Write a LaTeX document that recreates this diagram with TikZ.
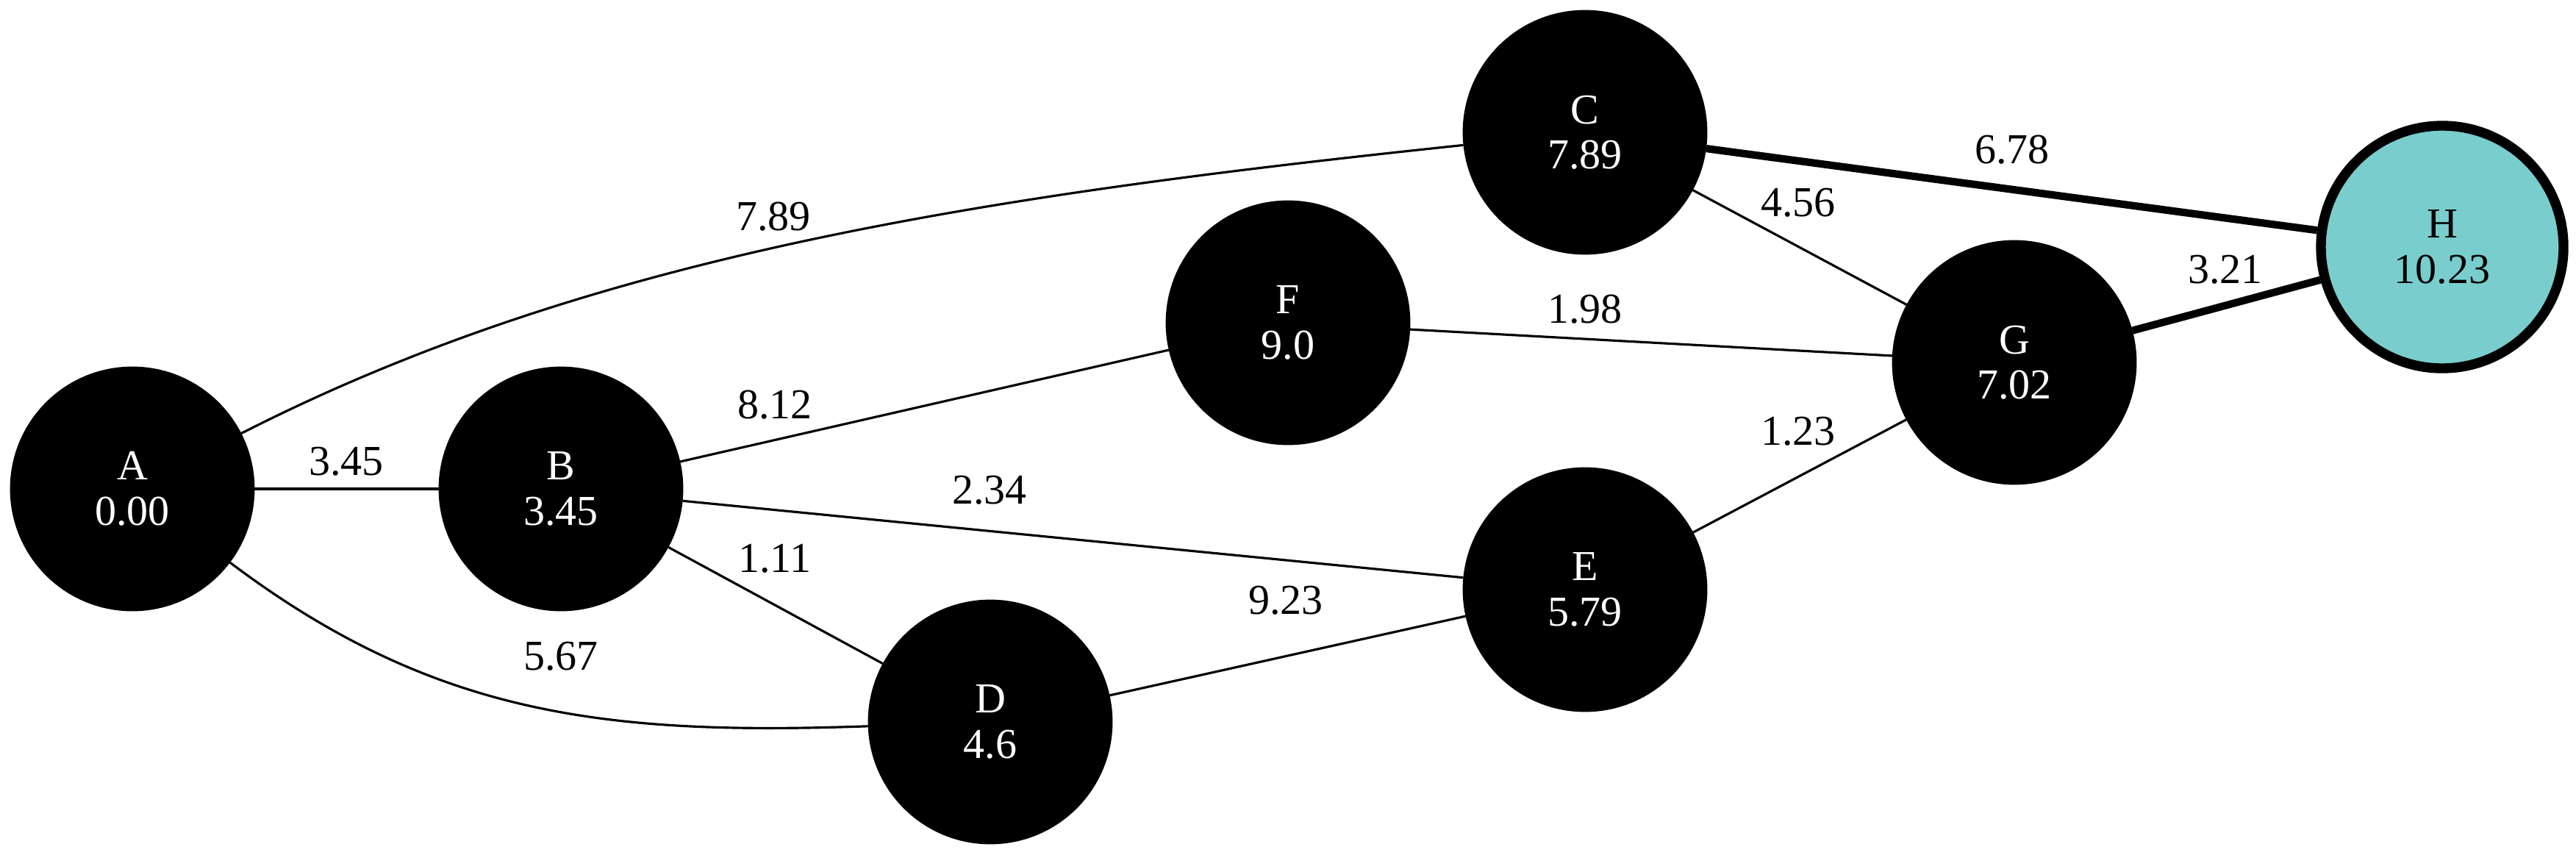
\documentclass[tikz,border=0pt]{standalone}
\usepackage{fontspec}
\setmainfont{Liberation Serif}
\usepackage{xcolor}
\usepackage{tikz}

\definecolor{goalcyan}{HTML}{79CDCD}

\begin{document}
\begin{tikzpicture}[
    vertex/.style = {circle, draw=black, fill=black, text=white,
                     minimum size=3.3cm, inner sep=0pt, align=center,
                     line width=0.8pt, font=\fontsize{16.5}{17.5}\selectfont},
    goal/.style = {vertex, fill=goalcyan, text=black, line width=3.8pt},
    weight/.style = {inner sep=0pt, font=\fontsize{16.5}{17.5}\selectfont},
    road/.style = {line width=0.9pt},
    shortest/.style = {line width=2.9pt}]
  \useasboundingbox (0,0) rectangle (35.04,11.62);

  \node (a) [vertex] at (1.80,4.97) {A\\0.00};
  \node (b) [vertex] at (7.63,4.97) {B\\3.45};
  \node (d) [vertex] at (13.47,1.80) {D\\4.6};
  \node (f) [vertex] at (17.52,7.23) {F\\9.0};
  \node (c) [vertex] at (21.56,9.82) {C\\7.89};
  \node (e) [vertex] at (21.56,3.60) {E\\5.79};
  \node (g) [vertex] at (27.40,6.69) {G\\7.02};
  \node (h) [goal] at (33.22,8.26) {H\\10.23};

  % edge weights
  \node (wab) [weight] at (4.71,5.34) {3.45};
  \node (wac) [weight] at (10.52,8.67) {7.89};
  \node (wbf) [weight] at (10.54,6.11) {8.12};
  \node (wbd) [weight] at (10.54,4.02) {1.11};
  \node (wad) [weight] at (7.63,2.69) {5.67};
  \node (wbe) [weight] at (13.46,4.95) {2.34};
  \node (wde) [weight] at (17.49,3.45) {9.23};
  \node (wfg) [weight] at (21.56,7.41) {1.98};
  \node (wcg) [weight] at (24.46,8.86) {4.56};
  \node (weg) [weight] at (24.46,5.75) {1.23};
  \node (wch) [weight] at (27.37,9.58) {6.78};
  \node (wgh) [weight] at (30.27,7.95) {3.21};

  \path[road]
    (a) edge (b)
    (a) edge[out=27,in=186,out distance=5.3cm,in distance=6.7cm] (c)
    (a) edge[out=-37,in=182] (d)
    (b) edge (f)
    (b) edge (e)
    (b) edge (d)
    (d) edge (e)
    (f) edge (g)
    (c) edge (g)
    (e) edge (g);

  \path[shortest]
    (c) edge (h)
    (g) edge (h);
\end{tikzpicture}
\end{document}
